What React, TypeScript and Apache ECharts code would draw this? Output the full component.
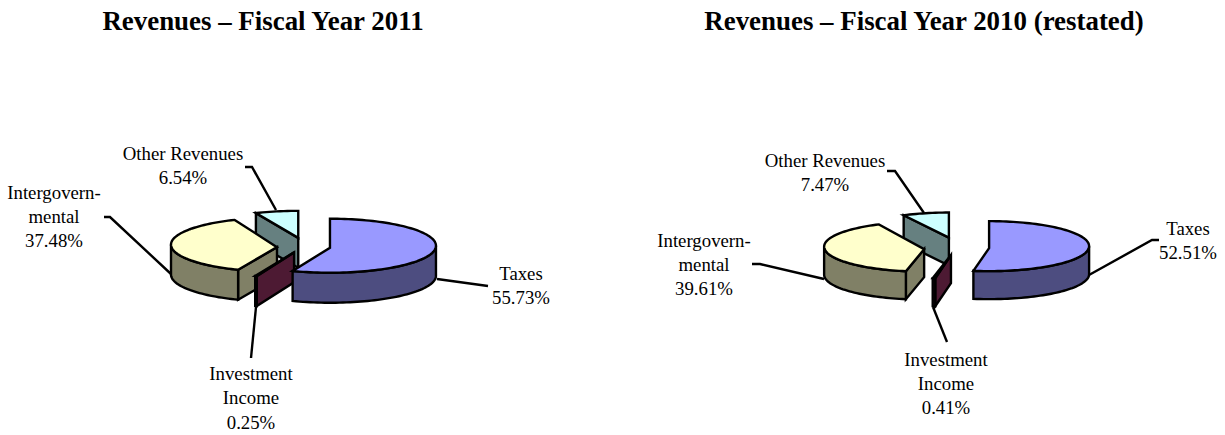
import React, { useEffect, useRef } from "react";
import * as echarts from "echarts";

const categories = ["Taxes", "Investment Income", "Intergovernmental", "Other Revenues"];
const values2011 = [55.73, 0.25, 37.48, 6.54];
const values2010 = [52.51, 0.41, 39.61, 7.47];
const topColors = ["#9999FF", "#993366", "#FFFFCC", "#CCFFFF"];
const sideColors = ["#4D4D80", "#4D1A33", "#808066", "#668080"];
const drawOrder = [3, 2, 1, 0];
const titles = ["Revenues – Fiscal Year 2011", "Revenues – Fiscal Year 2010 (restated)"];
const labelLines = [["Taxes"], ["Investment", "Income"], ["Intergovern-", "mental"], ["Other Revenues"]];
const apexDip = [2, 1.5, 2.5, 0];

const pieGeometry = [
  { cx: 303.7, cy: 244.5, rx: 106, ry: 27, depth: 30, explode: 26.7 },
  { cx: 956.5, cy: 245.5, rx: 100, ry: 25, depth: 28, explode: 32.7 },
];

// label anchor: centre x, centre y of the first line
const labelAnchors = [
  [[521, 273.5], [251, 373.5], [54, 192], [183, 153.5]],
  [[1188, 228], [946, 359], [704, 240], [825, 160.5]],
];
const leaders = [
  [
    [[437, 279], [488, 286]],
    [[256, 307], [251, 358]],
    [[104, 217], [110, 217], [171, 274]],
    [[245, 167], [252, 167], [276, 210]],
  ],
  [
    [[1089, 275], [1152, 240], [1159, 240]],
    [[933, 307], [947, 342]],
    [[752, 264], [760, 264], [824, 279]],
    [[887, 171], [895, 171], [924, 213]],
  ],
];

const D2R = Math.PI / 180;
const LINE_WIDTH = 2.4;

function pieSeries(values: number[], g: (typeof pieGeometry)[number]) {
  const total = values.reduce((a, b) => a + b, 0);
  const starts: number[] = [];
  let acc = 0;
  values.forEach((v) => {
    starts.push((acc / total) * 360);
    acc += v;
  });
  const renderItem = (_: any, api: any) => {
    const i = api.value(0);
    const a = starts[i];
    const b = a + (api.value(1) / total) * 360;
    const mid = ((a + b) / 2) * D2R;
    const cx = g.cx + Math.sin(mid) * g.explode;
    const cy = g.cy - (Math.cos(mid) * g.explode * g.ry) / g.rx;
    const apexY = cy + apexDip[i];
    const rim = (t: number, dz = 0) => [cx + g.rx * Math.sin(t * D2R), cy - g.ry * Math.cos(t * D2R) + dz];
    const arc = (from: number, to: number, dz = 0) => {
      const n = Math.max(1, Math.ceil((to - from) / 2));
      return Array.from({ length: n + 1 }, (_, k) => rim(from + ((to - from) * k) / n, dz));
    };
    const style = (fill: string) => ({ fill, stroke: "#000", lineWidth: LINE_WIDTH, lineJoin: "miter" });
    const children: any[] = [];
    const add = (points: number[][], fill: string) =>
      children.push({ type: "polygon", shape: { points }, style: style(fill) });
    const wall = (t: number) =>
      add([[cx, apexY], rim(t), rim(t, g.depth), [cx, apexY + g.depth]], sideColors[i]);
    if (a > 180 && a < 360) wall(a);
    if (b > 0 && b < 180) wall(b);
    const from = Math.max(a, 90);
    const to = Math.min(b, 270);
    if (to > from) {
      add([...arc(from, to), ...arc(from, to, g.depth).reverse()], sideColors[i]);
    }
    add([[cx, apexY], ...arc(a, b)], topColors[i]);
    return { type: "group", children };
  };
  return {
    type: "custom",
    coordinateSystem: "none",
    silent: true,
    renderItem,
    data: drawOrder.map((i) => [i, values[i]]),
  };
}

function annotations(values: number[], p: number) {
  const els: any[] = [];
  leaders[p].forEach((points) => {
    els.push({
      type: "polyline",
      shape: { points },
      style: { fill: "none", stroke: "#000", lineWidth: LINE_WIDTH },
      z: 20,
    });
  });
  categories.forEach((_, i) => {
    const [x, y] = labelAnchors[p][i];
    [...labelLines[i], values[i].toFixed(2) + "%"].forEach((line, k) => {
      els.push({
        type: "text",
        x,
        y: y + k * 24.4,
        z: 20,
        style: {
          text: line,
          align: "center",
          verticalAlign: "middle",
          font: '18.8px "Liberation Serif"',
          fill: "#000",
        },
      });
    });
  });
  return els;
}

export default function App() {
  const ref = useRef<HTMLDivElement>(null);
  useEffect(() => {
    document.body.style.margin = "0";
    const chart = echarts.init(ref.current!, undefined, { renderer: "svg" });
    chart.setOption({
      animation: false,
      backgroundColor: "#fff",
      title: [
        { text: titles[0], left: 258, top: 2, textAlign: "center", textStyle: { fontFamily: "Liberation Serif", fontSize: 26.9, fontWeight: "bold", color: "#000" } },
        { text: titles[1], left: 919, top: 2, textAlign: "center", textStyle: { fontFamily: "Liberation Serif", fontSize: 26.9, fontWeight: "bold", color: "#000" } },
      ],
      series: [pieSeries(values2011, pieGeometry[0]), pieSeries(values2010, pieGeometry[1])],
      graphic: [...annotations(values2011, 0), ...annotations(values2010, 1)],
    });
    return () => chart.dispose();
  }, []);
  return <div ref={ref} style={{ width: 1225, height: 435 }} />;
}
